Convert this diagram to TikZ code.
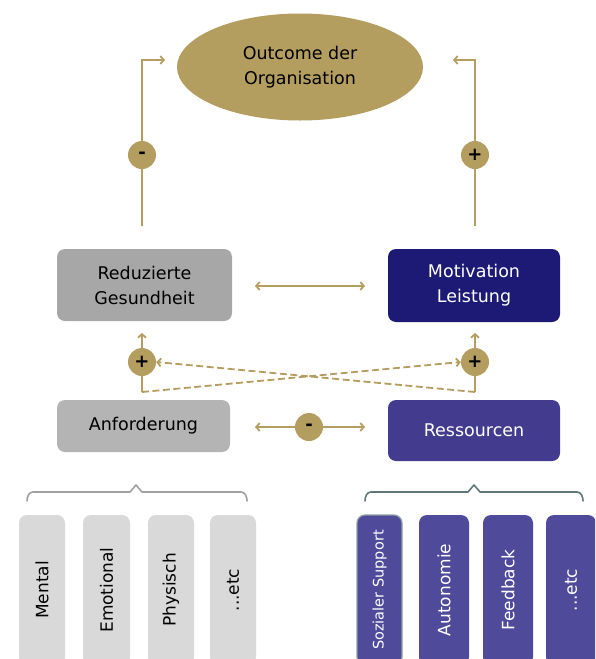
\documentclass[tikz,border=0pt]{standalone}
\usepackage{fontspec}
\setmainfont{DejaVu Sans}
\usetikzlibrary{arrows.meta,shapes.geometric}
\definecolor{gold}{HTML}{B39D5F}
\definecolor{grayA}{HTML}{A7A7A7}
\definecolor{grayB}{HTML}{B4B4B4}
\definecolor{grayC}{HTML}{D9D9D9}
\definecolor{navy}{HTML}{1D1A75}
\definecolor{purpA}{HTML}{433C8E}
\definecolor{purpB}{HTML}{4F4B9A}
\definecolor{bracegray}{HTML}{A0A0A0}
\definecolor{braceteal}{HTML}{5F7777}
\tikzset{
  gl/.style={draw=gold, line width=1.8pt},
  tip/.style={-{Straight Barb[length=3.5pt,width=8pt]}},
  tipb/.style={{Straight Barb[length=3.5pt,width=8pt]}-{Straight Barb[length=3.5pt,width=8pt]}},
  mainbox/.style={rounded corners=8pt, align=center, inner sep=0pt, font=\fontsize{17.5}{25}\selectfont},
  sign/.style={circle, fill=gold, minimum size=28pt, inner sep=0pt, font=\fontsize{18}{18}\selectfont\bfseries},
  vbox/.style={rounded corners=8pt, rotate=90, minimum width=150pt, inner sep=0pt, font=\fontsize{17}{17}\selectfont},
  bracel/.style={line width=1.6pt, line cap=round, line join=round},
  dsh/.style={dash pattern=on 7pt off 3.5pt}
}
\begin{document}
\begin{tikzpicture}[x=1pt,y=-1pt]
\useasboundingbox (0,0) rectangle (595,659);
\clip (0,0) rectangle (595,659);

% main nodes
\node[ellipse, fill=gold, minimum width=246pt, minimum height=107pt, inner sep=0pt, align=center, font=\fontsize{17.5}{25}\selectfont] (oc) at (300,67) {Outcome der\\Organisation};
\node[mainbox, fill=grayA, minimum width=175pt, minimum height=72pt] (rg) at (144.5,285) {Reduzierte\\Gesundheit};
\node[mainbox, fill=navy, text=white, minimum width=172pt, minimum height=73pt] (ml) at (474,285.5) {Motivation\\Leistung};
\node[mainbox, fill=grayB, minimum width=173pt, minimum height=52pt] (an) at (143.5,426) {Anforderung};
\node[mainbox, fill=purpA, text=white, minimum width=172pt, minimum height=61pt] (rs) at (474,430.5) {Ressourcen};

% sign circles
\node[sign] (mL) at (142,155) {-};
\node[sign] (pT) at (475,155) {+};
\node[sign] (pL) at (142,362) {+};
\node[sign] (pR) at (475,362) {+};
\node[sign] (mM) at (309,427) {-};

% top connectors
\coordinate (l0) at (142,226);
\coordinate (l1) at (165,60);
\coordinate (r0) at (475,226);
\coordinate (r1) at (453,60);
\draw[gl] (l0) -- (mL.south);
\draw[gl,tip] (mL.north) |- (l1);
\draw[gl] (r0) -- (pT.south);
\draw[gl,tip] (pT.north) |- (r1);

% horizontal double arrows
\coordinate (h1) at (255,286);
\coordinate (h2) at (365,286);
\draw[gl,tipb] (h1) -- (h2);
\coordinate (h3) at (255,427);
\coordinate (h4) at (365,427);
\draw[gl,tip] (mM.west) -- (h3);
\draw[gl,tip] (mM.east) -- (h4);

% vertical arrows with crossing dashed lines
\coordinate (aL) at (142,392);
\coordinate (aR) at (475,392);
\coordinate (tL) at (142,333);
\coordinate (tR) at (475,333);
\draw[gl] (aL) -- (pL.south);
\draw[gl,tip] (pL.north) -- (tL);
\draw[gl] (aR) -- (pR.south);
\draw[gl,tip] (pR.north) -- (tR);
\draw[gl,dsh,tip] (aL) -- (pR.west);
\draw[gl,dsh,tip] (aR) -- (pL.east);

% braces
\draw[bracel, draw=bracegray] (27,501) to[out=90,in=180] (33,492) -- (130,492) -- (136,485) -- (142,492) -- (241,492) to[out=0,in=90] (247,501);
\draw[bracel, draw=braceteal] (365,501) to[out=90,in=180] (371,492) -- (468,492) -- (474,485) -- (480,492) -- (577,492) to[out=0,in=90] (583,501);

% bottom left boxes
\node[vbox, fill=grayC, minimum height=46pt] (b1) at (42,590) {Mental};
\node[vbox, fill=grayC, minimum height=47pt] (b2) at (106.5,590) {Emotional};
\node[vbox, fill=grayC, minimum height=46pt] (b3) at (171,590) {Physisch};
\node[vbox, fill=grayC, minimum height=46pt] (b4) at (233,590) {...etc};

% bottom right boxes
\node[vbox, fill=purpB, draw=braceteal!70, line width=1.2pt, text=white, minimum height=45pt, font=\fontsize{14.5}{14.5}\selectfont] (c1) at (379.5,590) {Sozialer Support};
\node[vbox, fill=purpB, text=white, minimum height=50pt] (c2) at (444,590) {Autonomie};
\node[vbox, fill=purpB, text=white, minimum height=50pt] (c3) at (508,590) {Feedback};
\node[vbox, fill=purpB, text=white, minimum height=50pt] (c4) at (571,590) {...etc};
\end{tikzpicture}
\end{document}
